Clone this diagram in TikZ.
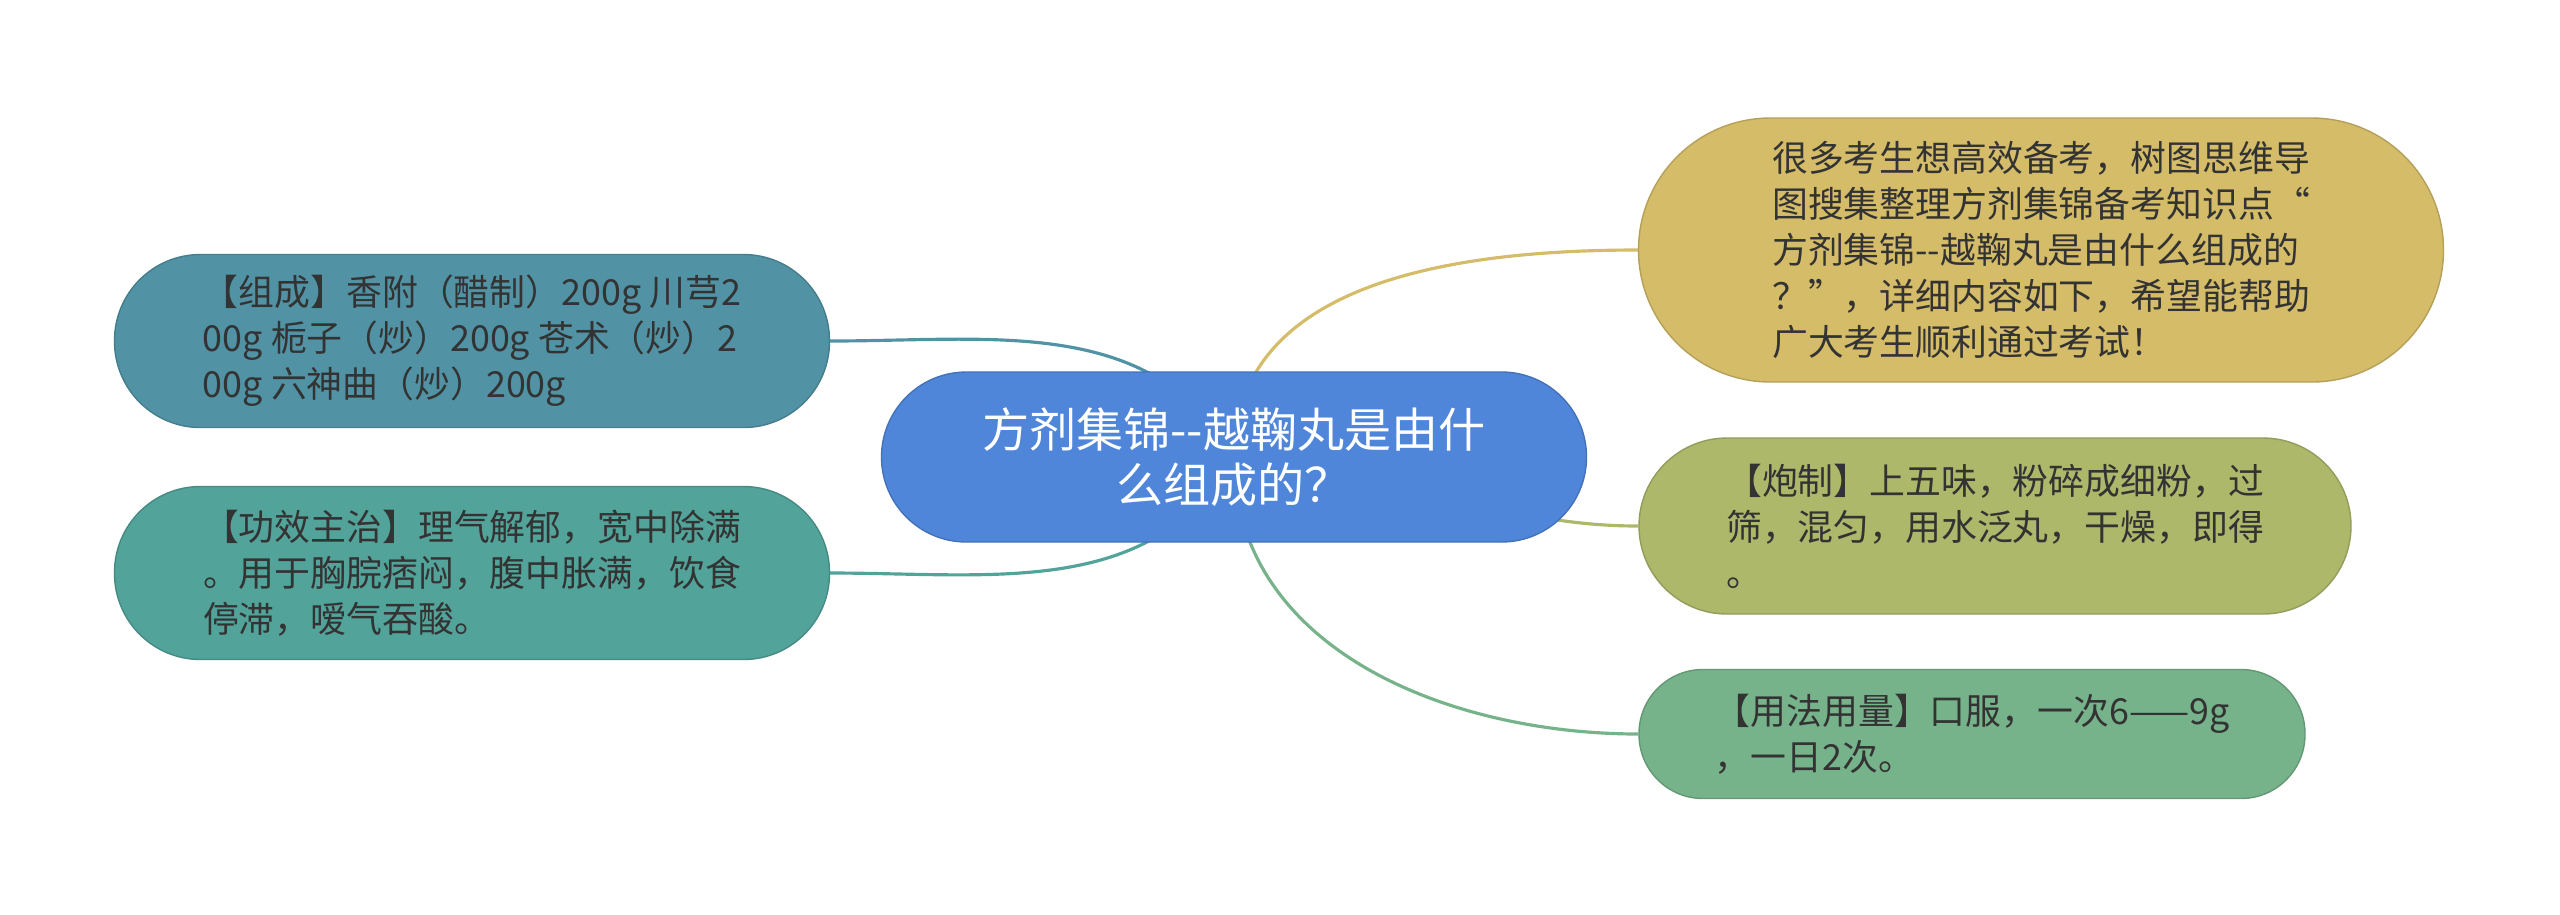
\documentclass[tikz,border=0pt]{standalone}
\usepackage{fontspec}
\setmainfont{Noto Sans CJK SC}
\usetikzlibrary{backgrounds}

\definecolor{topicblue}{HTML}{4F86DA}
\definecolor{zuchengc}{HTML}{5193A5}
\definecolor{gongxiaoc}{HTML}{52A39A}
\definecolor{introc}{HTML}{D4BC69}
\definecolor{paozhic}{HTML}{ADB86B}
\definecolor{yongfac}{HTML}{76B38A}
\definecolor{leaftext}{HTML}{333333}

\tikzset{
  topic/.style={rectangle, align=center, text=white, inner sep=0pt,
    font=\fontsize{13.4pt}{15.8pt}\selectfont},
  leaf/.style={rectangle, align=left, text=leaftext, inner sep=0pt,
    font=\fontsize{10.2pt}{13.1pt}\selectfont},
  link/.style={line width=0.9pt},
}

\begin{document}
\begin{tikzpicture}
  \useasboundingbox (0,0) rectangle (25.6,-9.14);

  \node[topic, fill=topicblue, draw=topicblue!85!black, minimum width=7.05cm, minimum height=1.70cm, rounded corners=0.85cm]
    (topic) at (12.34,-4.57) {方剂集锦-{}-越鞠丸是由什\\么组成的？};

  \node[leaf, fill=zuchengc, draw=zuchengc!85!black, minimum width=7.15cm, minimum height=1.73cm, rounded corners=0.86cm]
    (zucheng) at (4.72,-3.41) {【组成】香附（醋制）200g 川芎2\\00g 栀子（炒）200g 苍术（炒）2\\00g 六神曲（炒）200g};
  \node[leaf, fill=gongxiaoc, draw=gongxiaoc!85!black, minimum width=7.15cm, minimum height=1.73cm, rounded corners=0.86cm]
    (gongxiao) at (4.72,-5.73) {【功效主治】理气解郁，宽中除满\\。用于胸脘痞闷，腹中胀满，饮食\\停滞，嗳气吞酸。};

  \node[leaf, fill=introc, draw=introc!85!black, minimum width=8.05cm, minimum height=2.64cm, rounded corners=1.32cm]
    (intro) at (20.41,-2.50) {很多考生想高效备考，树图思维导\\图搜集整理方剂集锦备考知识点“\\方剂集锦-{}-越鞠丸是由什么组成的\\？”，详细内容如下，希望能帮助\\广大考生顺利通过考试！};
  \node[leaf, fill=paozhic, draw=paozhic!85!black, minimum width=7.12cm, minimum height=1.76cm, rounded corners=0.88cm]
    (paozhi) at (19.95,-5.26) {【炮制】上五味，粉碎成细粉，过\\筛，混匀，用水泛丸，干燥，即得\\。};
  \node[leaf, fill=yongfac, draw=yongfac!85!black, minimum width=6.66cm, minimum height=1.29cm, rounded corners=0.64cm]
    (yongfa) at (19.72,-7.34) {【用法用量】口服，一次6——9g\\，一日2次。};

  \begin{scope}[on background layer]
    \draw[link, zuchengc] (topic.center) to[out=120, in=0] (zucheng.east);
    \draw[link, gongxiaoc] (topic.center) to[out=240, in=0] (gongxiao.east);
    \draw[link, introc] (topic.center) to[out=90, in=180] (intro.west);
    \draw[link, paozhic] (topic.center) to[out=0, in=180] (paozhi.west);
    \draw[link, yongfac] (topic.center) to[out=-90, in=180] (yongfa.west);
  \end{scope}
\end{tikzpicture}
\end{document}
